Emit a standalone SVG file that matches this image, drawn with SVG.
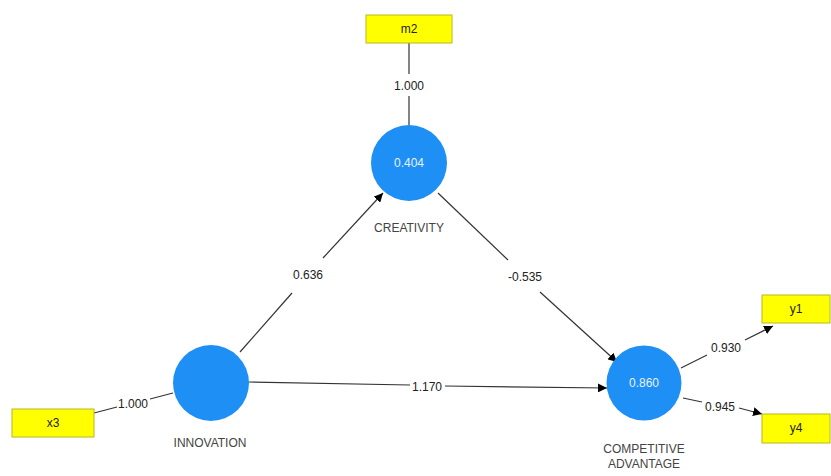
<svg xmlns="http://www.w3.org/2000/svg" width="831" height="476" viewBox="0 0 831 476">
<style>
.box{fill:#ffff00;stroke:#b8b820;stroke-width:1}
.lv{fill:#1e8ff5}
.t{font-family:"Liberation Sans",Arial,sans-serif;font-size:12px;fill:#222;text-anchor:middle}
.nl{font-family:"Liberation Sans",Arial,sans-serif;font-size:12px;fill:#444;text-anchor:middle}
.in{font-family:"Liberation Sans",Arial,sans-serif;font-size:12px;fill:#e8f2ff;text-anchor:middle}
.c{stroke:#333;stroke-width:1.2;fill:none}
.lb{font-family:"Liberation Sans",Arial,sans-serif;font-size:12px;fill:#222;text-anchor:middle}
</style>
<defs>
<marker id="ah" viewBox="0 0 10 10" refX="10" refY="5" markerWidth="9" markerHeight="9" markerUnits="userSpaceOnUse" orient="auto">
<path d="M0,0 L10,5 L0,10 z" fill="#000"/>
</marker>
</defs>
<rect width="831" height="476" fill="#fff"/>
<g id="connectors">
<path class="c" d="M409,43 L409,74"/>
<path class="c" d="M409,96 L409,125"/>
<path class="c" d="M94,413 L117,407"/>
<path class="c" d="M150,399 L173,393"/>
<path class="c" d="M240,352 L292,293"/>
<path class="c" d="M323,258 L383,193" marker-end="url(#ah)"/>
<path class="c" d="M438,193 L508,260"/>
<path class="c" d="M540,292 L617,362" marker-end="url(#ah)"/>
<path class="c" d="M249,382 L410,385"/>
<path class="c" d="M445,386 L607,388" marker-end="url(#ah)"/>
<path class="c" d="M681,368 L707,355"/>
<path class="c" d="M745,340 L773,326" marker-end="url(#ah)"/>
<path class="c" d="M683,398 L702,402"/>
<path class="c" d="M739,408 L762,414" marker-end="url(#ah)"/>
<text class="lb" x="409" y="90">1.000</text>
<text class="lb" x="133" y="408">1.000</text>
<text class="lb" x="308" y="279">0.636</text>
<text class="lb" x="525" y="281">-0.535</text>
<text class="lb" x="427" y="391">1.170</text>
<text class="lb" x="726" y="352">0.930</text>
<text class="lb" x="720" y="411">0.945</text>
</g>
<g id="m2"><rect class="box" x="366" y="15" width="86" height="28"/><text class="t" x="409" y="33">m2</text></g>
<g id="x3"><rect class="box" x="12" y="409" width="82" height="28"/><text class="t" x="53" y="427">x3</text></g>
<g id="y1"><rect class="box" x="762" y="295" width="68" height="28"/><text class="t" x="796" y="313">y1</text></g>
<g id="y4"><rect class="box" x="762" y="414" width="68" height="29"/><text class="t" x="796" y="432">y4</text></g>
<g id="creativity"><circle class="lv" cx="409" cy="163" r="38"/><text class="in" x="409" y="167">0.404</text><text class="nl" x="409" y="232">CREATIVITY</text></g>
<g id="innovation"><circle class="lv" cx="211" cy="383" r="38"/><text class="nl" x="210" y="447">INNOVATION</text></g>
<g id="competitive"><circle class="lv" cx="644" cy="383" r="37.5"/><text class="in" x="644" y="387">0.860</text><text class="nl" x="644" y="453">COMPETITIVE</text><text class="nl" x="644" y="468">ADVANTAGE</text></g>
</svg>
